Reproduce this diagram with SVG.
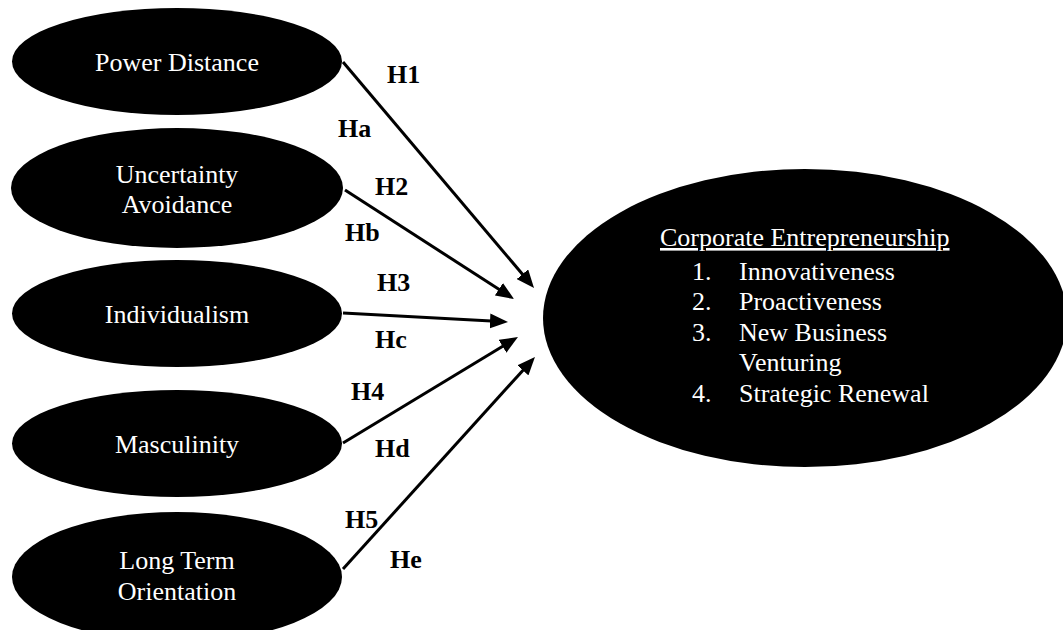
<svg xmlns="http://www.w3.org/2000/svg" width="1063" height="630" viewBox="0 0 1063 630">
<style>
  .node { fill: #000; }
  .lbl { font-family: "Liberation Serif", "Times New Roman", serif; font-size: 26px; fill: #fff; }
  .mid { text-anchor: middle; }
  .h { font-family: "Liberation Serif", "Times New Roman", serif; font-size: 26px; font-weight: bold; fill: #000; }
  .conn { stroke: #000; stroke-width: 3; fill: none; marker-end: url(#arrow); }
</style>
<defs>
  <marker id="arrow" markerUnits="userSpaceOnUse" markerWidth="18" markerHeight="15" refX="6" refY="7.5" orient="auto">
    <path d="M0,0 L18,7.5 L0,15 z" fill="#000"/>
  </marker>
</defs>
<rect width="1063" height="630" fill="#fff"/>
<g id="power-distance">
  <ellipse class="node" cx="177" cy="61.5" rx="165" ry="53.5"/>
  <text class="lbl mid" x="177" y="71">Power Distance</text>
</g>
<g id="uncertainty-avoidance">
  <ellipse class="node" cx="177" cy="188" rx="166" ry="60"/>
  <text class="lbl mid" x="177" y="183">Uncertainty</text>
  <text class="lbl mid" x="177" y="213">Avoidance</text>
</g>
<g id="individualism">
  <ellipse class="node" cx="177" cy="313.5" rx="165" ry="53.5"/>
  <text class="lbl mid" x="177" y="323">Individualism</text>
</g>
<g id="masculinity">
  <ellipse class="node" cx="177" cy="443.5" rx="165" ry="53.5"/>
  <text class="lbl mid" x="177" y="453">Masculinity</text>
</g>
<g id="long-term-orientation">
  <ellipse class="node" cx="177" cy="577" rx="165" ry="65"/>
  <text class="lbl mid" x="177" y="569">Long Term</text>
  <text class="lbl mid" x="177" y="600">Orientation</text>
</g>
<g id="corporate-entrepreneurship">
  <ellipse class="node" cx="805" cy="318" rx="262" ry="149"/>
  <text class="lbl" x="660" y="246" text-decoration="underline">Corporate Entrepreneurship</text>
  <text class="lbl" x="692" y="280">1.</text>
  <text class="lbl" x="739" y="280">Innovativeness</text>
  <text class="lbl" x="692" y="310">2.</text>
  <text class="lbl" x="739" y="310">Proactiveness</text>
  <text class="lbl" x="692" y="341">3.</text>
  <text class="lbl" x="739" y="341">New Business</text>
  <text class="lbl" x="739" y="371">Venturing</text>
  <text class="lbl" x="692" y="402">4.</text>
  <text class="lbl" x="739" y="402">Strategic Renewal</text>
</g>
<g id="connectors">
  <line class="conn" x1="343" y1="62" x2="526.3" y2="278.8"/>
  <line class="conn" x1="345" y1="190" x2="503.9" y2="292.5"/>
  <line class="conn" x1="343" y1="313" x2="496" y2="321.3"/>
  <line class="conn" x1="343" y1="443" x2="507.7" y2="343.2"/>
  <line class="conn" x1="343" y1="569" x2="526.9" y2="365.9"/>
</g>
<g id="labels">
  <text class="h" x="387" y="83">H1</text>
  <text class="h" x="338" y="137">Ha</text>
  <text class="h" x="375" y="195">H2</text>
  <text class="h" x="345" y="241">Hb</text>
  <text class="h" x="377" y="291">H3</text>
  <text class="h" x="375" y="348">Hc</text>
  <text class="h" x="351" y="400">H4</text>
  <text class="h" x="375" y="457">Hd</text>
  <text class="h" x="345" y="528">H5</text>
  <text class="h" x="390" y="568">He</text>
</g>
</svg>
